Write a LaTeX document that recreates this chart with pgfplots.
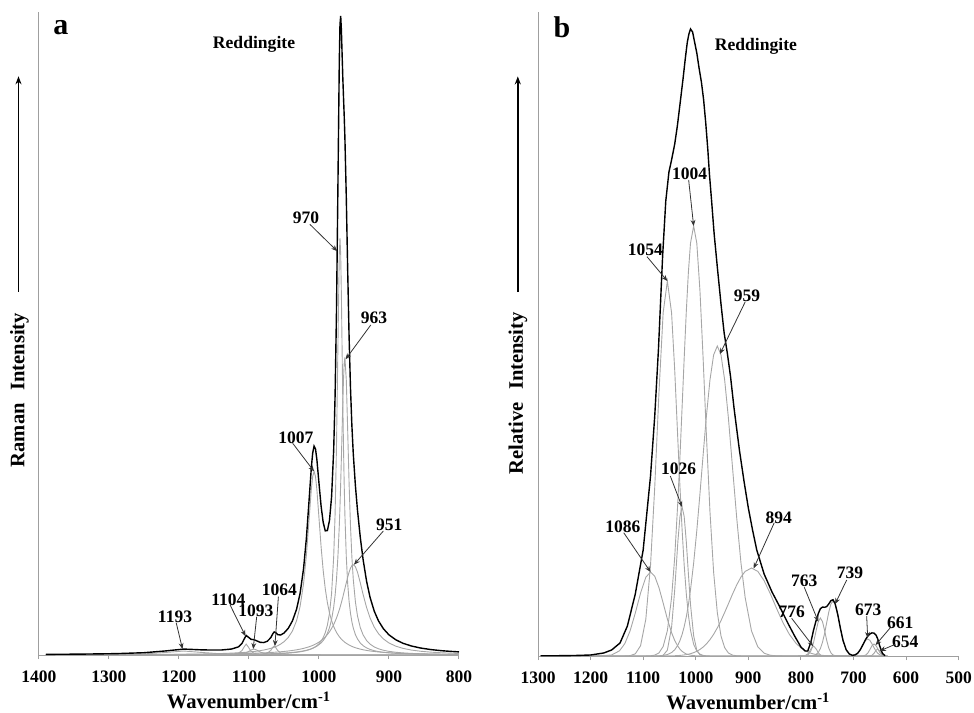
\documentclass[border=0pt]{standalone}
\usepackage{fontspec}
\setmainfont{Liberation Serif}
\usepackage{pgfplots}
\pgfplotsset{compat=1.18}
\usepackage{pgfplotstable}
\usetikzlibrary{arrows.meta}

% Panel a: fitted Lorentzian bands (A1..A8) and the resulting spectrum S
\pgfplotstableread{
x    A1   A2    A3   A4   A5     A6     A7     A8    S
1390 0.12 0.00 0.01 0.00 0.18 0.06 0.08 0.19 0.64
1340 0.21 0.01 0.01 0.00 0.24 0.08 0.10 0.24 0.89
1290 0.46 0.01 0.01 0.01 0.33 0.10 0.14 0.32 1.38
1250 1.10 0.01 0.02 0.01 0.45 0.13 0.18 0.41 2.31
1220 2.51 0.02 0.03 0.01 0.59 0.17 0.22 0.50 4.05
1193 4.00 0.04 0.05 0.01 0.77 0.21 0.28 0.62 5.98
1165 2.44 0.07 0.09 0.02 1.06 0.28 0.36 0.79 5.11
1140 1.22 0.21 0.21 0.04 1.49 0.36 0.47 1.01 5.01
1125 0.84 0.59 0.44 0.06 1.89 0.44 0.56 1.19 6.01
1115 0.67 1.88 0.86 0.09 2.26 0.50 0.63 1.33 8.22
1110 0.60 4.51 1.31 0.11 2.48 0.54 0.68 1.42 11.65
1107 0.57 8.09 1.75 0.12 2.63 0.56 0.71 1.47 15.90
1104 0.54 11.00 2.41 0.14 2.79 0.58 0.74 1.53 19.73
1101 0.51 8.09 3.35 0.16 2.97 0.61 0.77 1.59 18.05
1097 0.47 3.72 5.01 0.20 3.23 0.65 0.82 1.68 15.78
1093 0.44 1.88 6.00 0.26 3.53 0.69 0.87 1.77 15.44
1089 0.41 1.10 5.01 0.35 3.88 0.74 0.92 1.87 14.28
1084 0.37 0.65 3.00 0.53 4.39 0.81 1.00 2.01 12.76
1079 0.34 0.42 1.75 0.90 5.00 0.88 1.09 2.17 12.55
1074 0.32 0.30 1.10 1.80 5.75 0.97 1.19 2.35 13.78
1069 0.30 0.22 0.74 4.50 6.68 1.07 1.30 2.54 17.35
1066 0.28 0.19 0.60 7.76 7.35 1.14 1.38 2.67 21.37
1064 0.27 0.17 0.53 9.00 7.85 1.19 1.43 2.77 23.21
1062 0.27 0.15 0.47 7.76 8.41 1.24 1.49 2.86 22.65
1059 0.26 0.13 0.39 4.50 9.35 1.32 1.59 3.02 20.56
1055 0.24 0.11 0.32 2.12 10.90 1.45 1.73 3.25 20.12
1050 0.23 0.09 0.25 1.02 13.40 1.63 1.93 3.57 22.12
1044 0.21 0.08 0.20 0.53 17.60 1.91 2.22 4.03 26.78
1038 0.19 0.06 0.16 0.32 24.10 2.26 2.59 4.57 34.25
1032 0.18 0.05 0.13 0.21 34.60 2.71 3.06 5.23 46.17
1027 0.17 0.05 0.11 0.16 48.90 3.21 3.55 5.89 62.04
1022 0.16 0.04 0.10 0.13 72.20 3.85 4.17 6.69 87.34
1018 0.15 0.03 0.09 0.11 100.50 4.51 4.78 7.45 117.62
1014 0.14 0.03 0.08 0.09 138.00 5.36 5.55 8.33 157.58
1011 0.14 0.03 0.07 0.08 166.50 6.16 6.25 9.10 188.33
1009 0.14 0.03 0.07 0.07 180.00 6.80 6.79 9.67 203.57
1007 0.14 0.03 0.07 0.07 185.00 7.53 7.41 10.30 210.55
1005 0.14 0.03 0.06 0.07 180.00 8.40 8.11 11.00 207.81
1003 0.14 0.03 0.06 0.06 166.50 9.42 8.92 11.70 196.83
1000 0.13 0.03 0.06 0.06 138.00 11.35 10.40 13.00 173.03
997  0.13 0.03 0.05 0.05 109.20 13.90 12.20 14.50 150.06
994  0.13 0.03 0.05 0.05 85.10 17.50 14.60 16.20 133.66
991  0.12 0.03 0.05 0.04 66.60 22.50 17.60 18.20 125.14
988  0.12 0.02 0.04 0.04 52.70 30.10 21.80 20.60 125.42
985  0.12 0.02 0.04 0.04 42.40 42.00 27.60 23.40 135.62
982  0.12 0.02 0.04 0.03 34.60 62.10 35.80 26.80 159.51
979  0.11 0.02 0.04 0.03 28.70 99.10 48.20 30.70 206.90
977  0.10 0.02 0.04 0.03 25.50 141.90 60.00 33.80 261.39
975  0.10 0.02 0.04 0.03 22.80 210.00 76.10 37.30 346.39
973  0.10 0.02 0.04 0.03 20.50 308.80 98.70 41.20 469.39
971  0.10 0.02 0.03 0.03 18.50 403.80 130.10 45.50 598.08
970  0.10 0.02 0.03 0.03 17.60 420.00 150.00 47.80 635.58
969  0.10 0.02 0.03 0.02 16.80 403.80 172.90 50.30 643.97
968  0.10 0.02 0.03 0.02 16.00 362.10 198.70 52.80 629.77
967  0.10 0.02 0.03 0.02 15.30 308.80 226.20 55.50 605.97
966  0.10 0.02 0.03 0.02 14.60 256.10 253.40 58.20 582.47
965  0.10 0.02 0.03 0.02 14.00 210.00 277.40 61.10 562.67
964  0.10 0.02 0.03 0.02 13.40 172.10 294.00 64.00 543.67
963  0.10 0.02 0.03 0.02 12.80 141.90 300.00 66.90 521.77
961  0.09 0.02 0.03 0.02 11.80 99.10 277.40 72.80 461.26
959  0.09 0.02 0.03 0.02 10.90 71.90 226.20 78.40 387.56
957  0.09 0.02 0.03 0.02 10.10 54.10 172.90 83.50 320.76
955  0.09 0.02 0.03 0.02 9.35 42.00 130.10 87.50 269.11
953  0.09 0.02 0.03 0.02 8.70 33.40 98.70 90.10 231.06
951  0.08 0.02 0.03 0.02 8.10 27.20 76.10 91.00 202.55
948  0.08 0.02 0.03 0.02 7.35 20.60 53.70 89.00 170.80
945  0.08 0.02 0.02 0.02 6.68 16.15 39.40 83.50 145.87
941  0.08 0.02 0.02 0.02 5.92 12.10 27.60 72.80 118.56
937  0.08 0.02 0.02 0.02 5.28 9.43 20.30 61.10 96.25
932  0.07 0.01 0.02 0.01 4.61 7.15 14.60 47.80 74.27
927  0.07 0.01 0.02 0.01 4.07 5.60 10.90 37.30 57.98
921  0.07 0.01 0.02 0.01 3.53 4.33 8.11 28.00 44.08
915  0.06 0.01 0.02 0.01 3.09 3.44 6.25 21.50 34.38
908  0.06 0.01 0.01 0.01 2.68 2.71 4.78 16.20 26.46
900  0.06 0.01 0.01 0.01 2.30 2.13 3.66 12.10 20.28
890  0.05 0.01 0.01 0.01 1.93 1.63 2.73 8.83 15.20
880  0.05 0.01 0.01 0.01 1.64 1.29 2.12 6.69 11.82
868  0.05 0.01 0.01 0.00 1.37 1.01 1.62 5.00 9.07
855  0.04 0.00 0.01 0.00 1.15 0.79 1.26 3.79 7.04
840  0.04 0.00 0.01 0.00 0.95 0.62 0.97 2.86 5.45
825  0.03 0.00 0.01 0.00 0.80 0.50 0.77 2.24 4.35
812  0.03 0.00 0.01 0.00 0.70 0.42 0.64 1.85 3.65
800  0.03 0.00 0.01 0.00 0.62 0.36 0.55 1.57 3.14
}\ramanA

% Panel b: Gaussian bands of the main group (B1..B6)
\pgfplotstableread{
x    B1    B2    B3    B4    B5    B6
1295 0.00 0.00 0.00 0.00 0.00 0.00
1250 0.00 0.00 0.00 0.00 0.00 0.00
1210 0.00 0.00 0.00 0.00 0.00 0.00
1180 0.07 0.00 0.00 0.00 0.00 0.00
1160 1.05 0.00 0.00 0.00 0.00 0.00
1145 5.18 0.00 0.00 0.00 0.00 0.00
1135 12.3 0.04 0.00 0.00 0.00 0.00
1125 24.9 0.35 0.00 0.00 0.00 0.00
1115 42.9 2.16 0.00 0.00 0.00 0.00
1105 62.9 10.2 0.00 0.03 0.00 0.00
1095 78.7 36.6 0.00 0.04 0.00 0.00
1086 84.0 90.8 0.00 0.21 0.00 0.00
1078 79.8 168.9 0.00 0.86 0.00 0.00
1070 68.4 263.0 0.05 3.08 0.20 0.02
1062 53.0 343.2 0.70 9.50 0.56 0.05
1054 37.0 375.0 5.84 25.3 1.45 0.09
1046 23.4 343.2 28.5 58.2 3.44 0.17
1040 15.5 285.8 66.3 98.9 6.27 0.28
1034 9.70 215.5 114.4 155.0 10.9 0.44
1030 6.84 168.9 139.5 199.9 15.5 0.59
1026 4.72 126.6 149.0 248.4 21.5 0.79
1022 3.17 90.8 139.5 297.8 29.3 1.05
1018 2.08 62.3 114.4 344.3 39.1 1.38
1014 1.33 40.9 82.2 383.9 51.3 1.79
1010 0.83 25.7 51.7 412.8 66.1 2.31
1004 0.39 11.7 20.2 430.0 93.0 3.34
998  0.17 4.87 5.84 412.8 125.5 4.72
992  0.07 1.83 1.25 365.2 162.3 6.56
986  0.03 0.62 0.20 297.8 201.0 8.92
980  0.00 0.19 0.00 223.8 238.5 11.9
973  0.00 0.04 0.00 144.6 275.9 16.3
966  0.00 0.00 0.00 83.7 301.1 21.7
959  0.00 0.00 0.00 43.3 310.0 28.1
952  0.00 0.00 0.00 20.0 301.1 35.4
945  0.00 0.00 0.00 8.30 275.9 43.6
938  0.00 0.00 0.00 3.08 238.5 52.1
930  0.00 0.00 0.00 0.86 188.0 62.0
922  0.00 0.00 0.00 0.21 137.4 71.2
914  0.00 0.00 0.00 0.05 93.0 79.0
906  0.00 0.00 0.00 0.00 58.3 84.6
894  0.00 0.00 0.00 0.00 25.1 88.0
882  0.00 0.00 0.00 0.00 9.13 84.6
870  0.00 0.00 0.00 0.00 2.79 75.3
858  0.00 0.00 0.00 0.00 0.72 62.0
846  0.00 0.00 0.00 0.00 0.16 47.2
834  0.00 0.00 0.00 0.00 0.03 33.2
822  0.00 0.00 0.00 0.00 0.00 21.7
810  0.00 0.00 0.00 0.00 0.00 13.1
800  0.00 0.00 0.00 0.00 0.00 8.07
792  0.00 0.00 0.00 0.00 0.00 5.28
786  0.00 0.00 0.00 0.00 0.00 3.76
781  0.00 0.00 0.00 0.00 0.00 2.78
776  0.00 0.00 0.00 0.00 0.00 2.04
771  0.00 0.00 0.00 0.00 0.00 1.47
767  0.00 0.00 0.00 0.00 0.00 1.12
763  0.00 0.00 0.00 0.00 0.00 0.85
759  0.00 0.00 0.00 0.00 0.00 0.64
755  0.00 0.00 0.00 0.00 0.00 0.47
751  0.00 0.00 0.00 0.00 0.00 0.35
747  0.00 0.00 0.00 0.00 0.00 0.26
743  0.00 0.00 0.00 0.00 0.00 0.19
739  0.00 0.00 0.00 0.00 0.00 0.14
730  0.00 0.00 0.00 0.00 0.00 0.07
720  0.00 0.00 0.00 0.00 0.00 0.03
708  0.00 0.00 0.00 0.00 0.00 0.00
}\ramanBmain

% Panel b: Gaussian bands of the low-wavenumber group (B7..B12)
\pgfplotstableread{
x   B7    B8    B9    B10   B11   B12
805 0.00 0.00 0.00 0.00 0.00 0.00
800 0.00 0.00 0.00 0.00 0.00 0.00
792 0.28 0.21 0.00 0.00 0.00 0.00
786 2.49 1.45 0.03 0.00 0.00 0.00
781 7.07 5.14 0.12 0.00 0.00 0.00
776 10.0 13.4 0.47 0.00 0.00 0.00
771 7.07 25.6 1.57 0.00 0.00 0.00
767 3.25 34.4 3.62 0.00 0.00 0.00
763 0.96 38.0 7.44 0.00 0.00 0.00
759 0.18 34.4 13.7 0.00 0.00 0.00
755 0.02 25.6 22.6 0.00 0.00 0.00
751 0.00 15.6 33.4 0.00 0.00 0.00
747 0.00 7.83 44.0 0.00 0.00 0.00
743 0.00 3.21 52.0 0.00 0.00 0.00
739 0.00 1.09 55.0 0.00 0.00 0.00
735 0.00 0.30 52.0 0.00 0.00 0.00
730 0.00 0.05 41.5 0.00 0.00 0.00
725 0.00 0.00 27.8 0.00 0.00 0.00
720 0.00 0.00 15.7 0.00 0.00 0.00
714 0.00 0.00 6.27 0.00 0.00 0.00
708 0.00 0.00 1.95 0.04 0.00 0.00
702 0.00 0.00 0.47 0.25 0.00 0.00
697 0.00 0.00 0.12 0.95 0.00 0.00
692 0.00 0.00 0.03 2.80 0.00 0.00
687 0.00 0.00 0.00 6.38 0.01 0.00
682 0.00 0.00 0.00 11.3 0.13 0.00
677 0.00 0.00 0.00 15.7 0.88 0.00
673 0.00 0.00 0.00 17.0 2.76 0.01
669 0.00 0.00 0.00 15.7 6.25 0.08
665 0.00 0.00 0.00 12.3 10.2 0.62
661 0.00 0.00 0.00 8.27 12.0 2.63
657 0.00 0.00 0.00 4.72 10.2 5.85
654 0.00 0.00 0.00 2.80 7.28 7.00
650 0.00 0.00 0.00 1.21 3.49 5.08
645 0.00 0.00 0.00 0.34 0.88 1.39
640 0.00 0.00 0.00 0.07 0.13 0.14
635 0.00 0.00 0.00 0.01 0.01 0.00
}\ramanBsmall

% Panel b: measured spectrum
\pgfplotstableread{
x    E
1295 0.3
1260 0.3
1230 0.5
1200 1.0
1175 3.0
1160 6.0
1144 13
1130 30
1115 62
1100 106
1086 180
1078 240
1071 306
1063 400
1057 455
1051 484
1046 496
1040 512
1035 530
1029 556
1024 578
1020 597
1016 614
1013 622
1010 627
1006 624
1003 616
998  603
994  589
989  573
985  556
981  533
977  506
974  482
970  456
965  422
959  389
952  352
946  323
940  303
934  280
927  247
917  206
908  174
900  148
892  126
884  106
870  82
855  64
840  49
825  33
812  20
800  9
792  5
787  5
781  14
776  25.9
771  35.7
767  42.4
763  47.3
759  48.9
755  48.7
751  49.4
747  52.1
743  55.4
739  56.2
735  52.4
730  41.6
725  27.9
720  15.7
714  6.3
708  2.0
702  0.7
697  1.1
692  2.8
687  6.4
682  11.4
677  16.6
673  19.8
669  22.0
665  23.1
661  22.9
657  20.8
654  17.1
650  9.8
645  2.6
640  0.3
}\ramanBenv

\pgfplotsset{
  spectrum/.style={
    scale only axis, width=210pt, height=321.5pt,
    x dir=reverse, ymin=0, enlargelimits=false, clip=false,
    axis lines=left,
    axis line style={draw=gray!75, line width=0.5pt, -},
    ytick=\empty,
    tick align=outside, major tick length=2pt,
    tick style={draw=gray!75, line width=0.5pt},
    /pgf/number format/1000 sep={},
    /pgf/number format/assume math mode=true,
    xticklabel style={font=\fontsize{8.75}{10}\selectfont\bfseries, yshift=-2.5pt},
  },
  comp/.style={draw=gray!70, line width=0.45pt},
  env/.style={draw=black, line width=0.7pt},
}
\tikzset{
  lbl/.style={font=\fontsize{8.75}{10}\selectfont\bfseries, inner sep=0pt},
  arr/.style={draw=black!80, line width=0.4pt, -{Stealth[length=3pt,width=2.4pt]}},
  axlab/.style={font=\fontsize{10.3}{12}\selectfont\bfseries, inner sep=0pt},
}

\begin{document}
\begin{tikzpicture}
\path[use as bounding box] (0,0) rectangle (487pt,356pt);

% ---------------- panel a ----------------
\begin{axis}[spectrum, at={(19.5pt,28.5pt)}, anchor=south west,
  xmin=800, xmax=1400, ymax=648,
  xtick={800,900,1000,1100,1200,1300,1400}]
\foreach \c in {A1,A2,A3,A4,A5,A6,A7,A8}{
  \addplot[comp] table[x=x, y=\c] {\ramanA};
}
\addplot[env] table[x=x, y=S] {\ramanA};

\node[axlab] at (axis description cs:0.5,0) [yshift=-22.8pt] {Wavenumber/cm\textsuperscript{-1}};
\node[axlab, rotate=90] at (axis description cs:-0.0464,0.412) {Raman\hspace{0.35em} Intensity};
\draw[line width=0.7pt, -{Stealth[length=4pt,width=3pt]}] (axis description cs:-0.0488,0.565) -- (axis description cs:-0.0488,0.900);
\node[font=\fontsize{15}{16}\selectfont\bfseries, inner sep=0pt] at (axis description cs:0.052,0.975) {a};
\node[font=\fontsize{8.8}{10}\selectfont\bfseries, inner sep=0pt] at (axis description cs:0.512,0.949) {Reddingite};

\node[lbl] at (axis cs:1018.6,441) {970};
\draw[arr] (axis cs:1013,434) -- (axis cs:974,407);
\node[lbl] at (axis cs:921.4,340) {963};
\draw[arr] (axis cs:926,332.6) -- (axis cs:962,298);
\node[lbl] at (axis cs:1033,219) {1007};
\draw[arr] (axis cs:1037.6,213.4) -- (axis cs:1007,185);
\node[lbl] at (axis cs:899.6,131.7) {951};
\draw[arr] (axis cs:908,125) -- (axis cs:950,91);
\node[lbl] at (axis cs:1129.6,56.1) {1104};
\draw[arr] (axis cs:1127,50.4) -- (axis cs:1105,19);
\node[lbl] at (axis cs:1090,44.7) {1093};
\draw[arr] (axis cs:1089,38.6) -- (axis cs:1094,6);
\node[lbl] at (axis cs:1056.7,65.5) {1064};
\draw[arr] (axis cs:1058,58.8) -- (axis cs:1063,9);
\node[lbl] at (axis cs:1205.7,38.6) {1193};
\draw[arr] (axis cs:1204,32.6) -- (axis cs:1195,6);
\end{axis}

% ---------------- panel b ----------------
\begin{axis}[spectrum, at={(269pt,28pt)}, anchor=south west,
  width=210.35pt, height=322pt,
  xmin=500, xmax=1300, ymax=644,
  xtick={500,600,700,800,900,1000,1100,1200,1300}]
\foreach \c in {B1,B2,B3,B4,B5,B6}{
  \addplot[comp] table[x=x, y=\c] {\ramanBmain};
}
\foreach \c in {B7,B8,B9,B10,B11,B12}{
  \addplot[comp] table[x=x, y=\c] {\ramanBsmall};
}
\addplot[env] table[x=x, y=E] {\ramanBenv};

\node[axlab] at (axis description cs:0.5,0) [yshift=-22.8pt] {Wavenumber/cm\textsuperscript{-1}};
\node[axlab, rotate=90] at (axis description cs:-0.0475,0.408) {Relative\hspace{0.35em} Intensity};
\draw[line width=0.7pt, -{Stealth[length=4pt,width=3pt]}] (axis description cs:-0.048,0.565) -- (axis description cs:-0.048,0.900);
\node[font=\fontsize{15}{16}\selectfont\bfseries, inner sep=0pt] at (axis description cs:0.057,0.977) {b};
\node[font=\fontsize{8.8}{10}\selectfont\bfseries, inner sep=0pt] at (axis description cs:0.518,0.947) {Reddingite};

\node[lbl] at (axis cs:1096,406) {1054};
\draw[arr] (axis cs:1092.7,399.3) -- (axis cs:1054,375);
\node[lbl] at (axis cs:1011.5,482.7) {1004};
\draw[arr] (axis cs:1013.5,476) -- (axis cs:1004,430);
\node[lbl] at (axis cs:902.6,360) {959};
\draw[arr] (axis cs:905.8,354.3) -- (axis cs:954,302);
\node[lbl] at (axis cs:1032.5,187.3) {1026};
\draw[arr] (axis cs:1048.4,180) -- (axis cs:1026,149);
\node[lbl] at (axis cs:1138.4,129.3) {1086};
\draw[arr] (axis cs:1137,123.3) -- (axis cs:1086,84);
\node[lbl] at (axis cs:842.3,138.3) {894};
\draw[arr] (axis cs:850.7,133.3) -- (axis cs:890,87.5);
\node[lbl] at (axis cs:817.6,44.3) {776};
\draw[arr] (axis cs:817.6,37.7) -- (axis cs:777,9.9);
\node[lbl] at (axis cs:793.6,75.3) {763};
\draw[arr] (axis cs:793.6,68.7) -- (axis cs:767,34.4);
\node[lbl] at (axis cs:706.7,83.7) {739};
\draw[arr] (axis cs:713,76) -- (axis cs:735,52);
\node[lbl] at (axis cs:672,46.7) {673};
\draw[arr] (axis cs:675,40) -- (axis cs:673,18);
\node[lbl] at (axis cs:611,33.3) {661};
\draw[arr] (axis cs:630,28.3) -- (axis cs:658,11);
\node[lbl] at (axis cs:601.6,14) {654};
\draw[arr] (axis cs:620.6,11.7) -- (axis cs:650,5.1);
\end{axis}
\end{tikzpicture}
\end{document}
